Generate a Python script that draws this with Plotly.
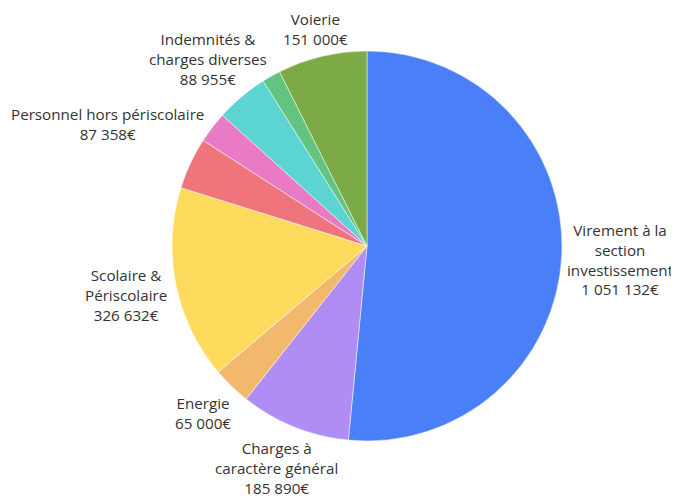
import plotly.graph_objects as go

# Data
categories = [
    "Virement à la section investissement",
    "Charges à caractère général",
    "Energie",
    "Scolaire & Périscolaire",
    "Personnel hors périscolaire",
    "Autres charges (a)",
    "Indemnités & charges diverses",
    "Autres charges (b)",
    "Voierie",
]
values = [1051132, 185890, 65000, 326632, 87358, 52700, 88955, 31400, 151000]
display_labels = [
    "Virement à la<br>section<br>investissement",
    "Charges à<br>caractère général",
    "Energie",
    "Scolaire &<br>Périscolaire",
    "Personnel hors périscolaire",
    None,
    "Indemnités &<br>charges diverses",
    None,
    "Voierie",
]
colors = ["#4a7ff7", "#b08cf5", "#f2b86c", "#fedb5c", "#f0747c",
          "#e87ac6", "#5cd4d4", "#62c480", "#7caa46"]

# Label block centres (page pixels)
label_pos = [(620, 259), (276, 468), (203, 413), (126, 295), (107, 124),
             None, (208, 59), None, (315, 29)]

W, H = 671, 490
ML, MR, MT, MB = 47, 0, 43, 57
OFF = 8  # page body margin


def fmt(v):
    return f"{v:,}".replace(",", " ") + "€"


def to_paper(px, py):
    fx, fy = px - OFF, py - OFF
    pw, ph = W - ML - MR, H - MT - MB
    return (fx - ML) / pw, 1 - (fy - MT) / ph


fig = go.Figure(go.Pie(
    labels=categories,
    values=values,
    textinfo="none",
    sort=False,
    direction="clockwise",
    rotation=0,
    marker=dict(colors=colors, line=dict(color="white", width=0.5)),
    showlegend=False,
    automargin=False,
))

annotations = []
for lab, v, pos in zip(display_labels, values, label_pos):
    if not lab or pos is None:
        continue
    x, y = to_paper(*pos)
    annotations.append(dict(
        x=x, y=y, xref="paper", yref="paper",
        text=f"{lab}<br>{fmt(v)}", showarrow=False,
        xanchor="center", yanchor="middle", align="center",
        font=dict(family="Open Sans", size=15.2, color="#333333"),
    ))

fig.update_layout(
    width=W, height=H,
    margin=dict(l=ML, r=MR, t=MT, b=MB),
    paper_bgcolor="white",
    plot_bgcolor="white",
    font=dict(family="Open Sans", size=15.2, color="#333333"),
    annotations=annotations,
)

fig.write_html("out.html")
